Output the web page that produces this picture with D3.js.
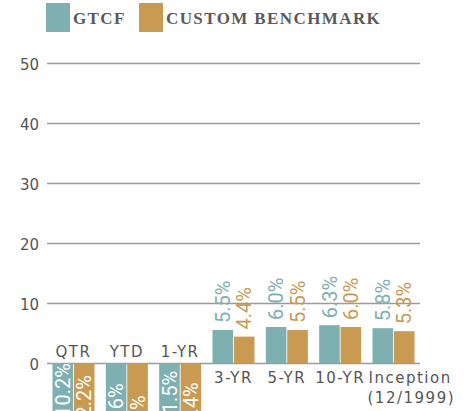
<!doctype html>
<html>
<head>
<meta charset="UTF-8">
<title>GTCF vs Custom Benchmark</title>
<script src="https://cdn.jsdelivr.net/npm/d3@7"></script>
<style>
body { margin: 0; background: #fff; }
</style>
</head>
<body>
<script>
// values (negative labels are clipped at the bottom, so estimated)
var categories = ["QTR", "YTD", "1-YR", "3-YR", "5-YR", "10-YR", "Inception"];
var subLabels = ["", "", "", "", "", "", "(12/1999)"];
var gtcf = [-10.2, -13.6, -11.5, 5.5, 6.0, 6.3, 5.8];
var bench = [-12.2, -15.6, -13.4, 4.4, 5.5, 6.0, 5.3];
var seriesNames = ["GTCF", "CUSTOM BENCHMARK"];
var yTicks = [0, 10, 20, 30, 40, 50];

var w = 466, h = 411;
var colors = ["#7eb0b1", "#c99a52"];

var svg = d3.select("body").append("svg")
  .attr("width", w)
  .attr("height", h);

var x0 = d3.scaleBand()
  .domain(categories)
  .range([47, 420])
  .paddingInner(0.2125)
  .paddingOuter(0.103);

var x1 = d3.scaleBand()
  .domain([0, 1])
  .range([0, x0.bandwidth()])
  .paddingInner(0.04);

var y = d3.scaleLinear()
  .domain([-20, 50])
  .range([483, 63]);

// gridlines + tick labels
var yAxis = d3.axisLeft(y).tickValues(yTicks).tickSize(-(420 - 47)).tickPadding(8);
var gy = svg.append("g")
  .attr("transform", "translate(47,0)")
  .call(yAxis);
gy.select(".domain").remove();
gy.selectAll(".tick line").attr("stroke", "#9b9b9b").attr("stroke-width", 1.3);
gy.selectAll(".tick text")
  .attr("font-family", "DejaVu Sans")
  .attr("font-size", "15px")
  .attr("fill", "#555")
  .attr("dy", "0.45em");

// legend
var legend = svg.append("g");
var legX = [46, 139];
seriesNames.forEach(function(name, i) {
  legend.append("rect")
    .attr("x", legX[i]).attr("y", 3)
    .attr("width", 24).attr("height", 29)
    .attr("fill", colors[i]);
  legend.append("text")
    .attr("x", legX[i] + 27).attr("y", 24)
    .attr("font-family", "Liberation Serif")
    .attr("font-weight", "bold")
    .attr("font-size", "17px")
    .attr("letter-spacing", "1.4px")
    .attr("fill", "#5a5a5a")
    .text(name);
});

// bars
var rows = categories.map(function(c, i) {
  return { key: c, sub: subLabels[i], vals: [gtcf[i], bench[i]] };
});

var groups = svg.selectAll("g.grp")
  .data(rows)
  .enter().append("g")
  .attr("class", "grp")
  .attr("transform", function(d) { return "translate(" + x0(d.key) + ",0)"; });

groups.selectAll("rect")
  .data(function(d) { return d.vals; })
  .enter().append("rect")
  .attr("x", function(d, i) { return x1(i); })
  .attr("y", function(d) { return y(Math.max(0, d)); })
  .attr("width", x1.bandwidth())
  .attr("height", function(d) { return Math.abs(y(d) - y(0)); })
  .attr("fill", function(d, i) { return colors[i]; });

// value labels, rotated
groups.selectAll("text.val")
  .data(function(d) { return d.vals; })
  .enter().append("text")
  .attr("class", "val")
  .attr("transform", function(d, i) {
    var cx = x1(i) + x1.bandwidth() / 2;
    var yy = d >= 0 ? y(d) - 7 : y(d) - 2;
    return "translate(" + cx + "," + yy + ") rotate(-90)";
  })
  .attr("dy", "0.36em")
  .attr("text-anchor", "start")
  .attr("font-family", "Roboto")
  .attr("font-size", "20px")
  .attr("fill", function(d, i) { return d < 0 ? "#fff" : colors[i]; })
  .text(function(d) { return d.toFixed(1) + "%"; });

// category labels
var catLabels = groups.append("text")
  .attr("class", "cat")
  .attr("font-family", "DejaVu Sans")
  .attr("font-size", "15px")
  .attr("letter-spacing", "1.5px")
  .attr("fill", "#555")
  .attr("text-anchor", function(d, i) { return i === categories.length - 1 ? "start" : "middle"; })
  .attr("x", function(d, i) { return i === categories.length - 1 ? -4 : x0.bandwidth() / 2; })
  .attr("y", function(d) { return d.vals[0] < 0 ? y(0) - 6 : y(0) + 20; });

catLabels.append("tspan").text(function(d) { return d.key; });
catLabels.filter(function(d) { return d.sub; })
  .append("tspan")
  .attr("x", -5)
  .attr("dy", 20)
  .text(function(d) { return d.sub; });
</script>
</body>
</html>
